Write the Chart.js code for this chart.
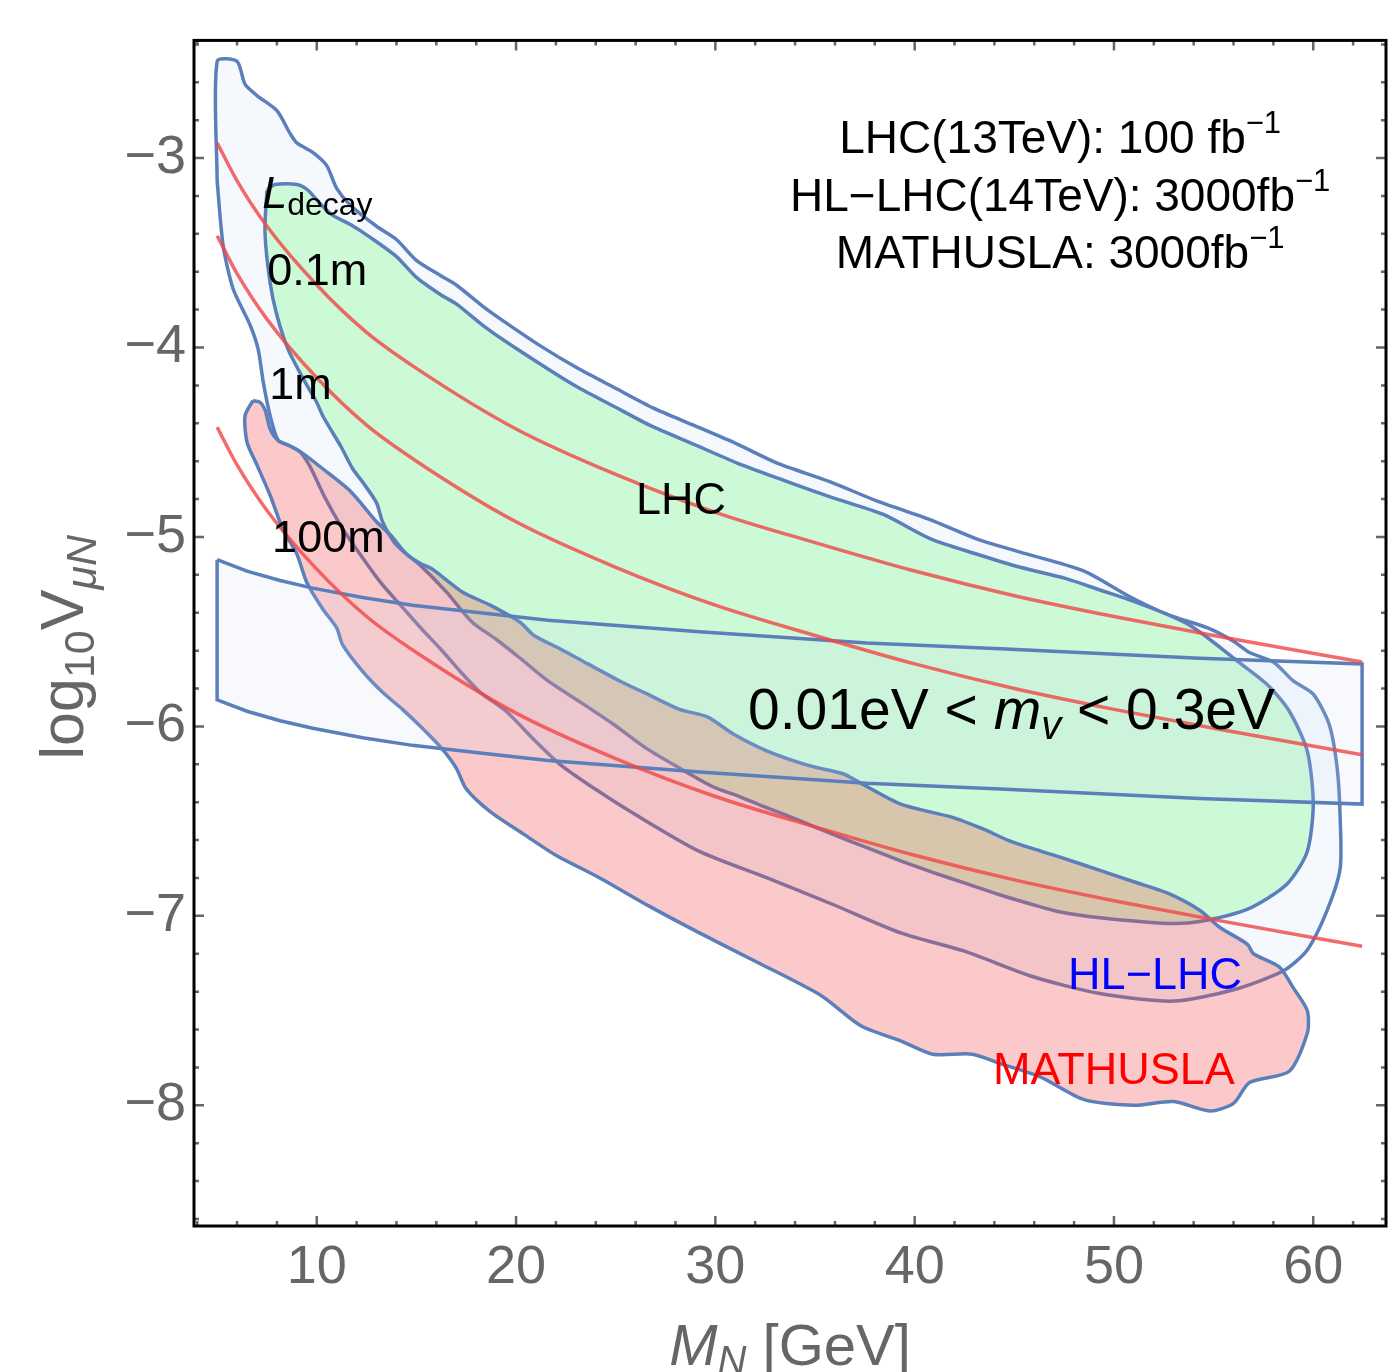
<!DOCTYPE html>
<html>
<head>
<meta charset="utf-8">
<title>HNL reach: LHC, HL-LHC, MATHUSLA</title>
<script src="https://cdn.jsdelivr.net/npm/chart.js@4.4.1/dist/chart.umd.min.js"></script>
<style>
  html, body { margin: 0; padding: 0; background: #fff; }
</style>
</head>
<body>
<canvas id="grafico" width="1394" height="1372"></canvas>
<script>
const FONT = '"Liberation Sans", Arial, Helvetica, sans-serif';
const GRIS = '#666666';
const AZUL = '#5b7fba';

// axes
const xTicks = [10, 20, 30, 40, 50, 60];
const yTicks = [-8, -7, -6, -5, -4, -3];

// HL-LHC (outer light blue region), M_N [GeV] and log10 V
const hlMass = [5.0, 5.0, 6.0, 6.4, 7.0, 8.0, 8.66, 9.0, 9.8, 10.5, 11.0, 11.7, 13.0, 14.0, 15.0, 16.2, 17.0, 18.3, 19.5, 21.2,
  23.1, 24.9, 26.9, 28.9, 31.1, 33.1, 35.8, 38.1, 40.8, 43.1, 45.3, 48.5, 50.7, 52.7, 54.7, 56.0, 56.8, 58.0, 59.0, 60.0,
  60.8, 61.2, 61.35, 61.35, 60.7, 59.7, 58.5, 56.0, 53.0, 49.3, 45.9, 42.6, 39.3, 35.9, 32.6, 29.2, 25.9, 24.1, 22.2, 20.9,
  19.5, 18.2, 17.2, 16.2, 15.3, 14.2, 13.2, 11.9, 11.2, 10.4, 9.67, 9.16, 8.66, 8.06, 7.66, 7.31, 7.06, 6.65, 5.8, 5.3];
const hlLogV = [-3.12, -2.49, -2.49, -2.61, -2.67, -2.75, -2.87, -2.92, -2.97, -3.04, -3.16, -3.25, -3.36, -3.43, -3.54, -3.62, -3.67, -3.78, -3.87, -3.99,
  -4.11, -4.21, -4.32, -4.41, -4.51, -4.61, -4.71, -4.81, -4.91, -5.01, -5.08, -5.18, -5.31, -5.41, -5.48, -5.55, -5.61, -5.66, -5.76, -5.83,
  -5.99, -6.22, -6.48, -6.75, -6.97, -7.18, -7.29, -7.39, -7.45, -7.41, -7.32, -7.19, -7.09, -6.94, -6.80, -6.66, -6.46, -6.34, -6.20, -6.07,
  -5.92, -5.82, -5.71, -5.59, -5.49, -5.36, -5.24, -5.05, -4.94, -4.79, -4.63, -4.55, -4.52, -4.49, -4.36, -4.18, -4.01, -3.88, -3.69, -3.46];

// LHC 13 TeV (green)
const lhcMass = [7.5, 7.9, 9.01, 9.56, 10.07, 10.77, 11.67, 12.7, 14.0, 15.0, 16.2, 17.0, 18.3, 19.5, 21.7, 23.1, 24.9, 26.7, 28.9, 31.1,
  33.4, 35.8, 38.4, 40.8, 43.1, 45.3, 47.6, 49.3, 51.0, 52.7, 53.7, 54.8, 56.0, 57.7, 58.8, 59.7, 60.0, 59.7, 58.7, 56.8,
  54.3, 52.7, 49.3, 47.3, 45.9, 44.3, 42.6, 40.9, 39.3, 37.6, 35.9, 34.3, 32.6, 31.2, 29.9, 28.2, 26.6, 24.9, 23.2, 21.6,
  20.2, 19.0, 17.8, 16.5, 15.2, 14.5, 13.9, 13.3, 13.0, 12.3, 11.8, 11.2, 10.8, 10.3, 10.0, 9.4, 8.56, 8.0, 7.66, 7.4];
const lhcLogV = [-3.17, -3.14, -3.14, -3.17, -3.23, -3.30, -3.35, -3.42, -3.52, -3.63, -3.72, -3.77, -3.88, -3.97, -4.12, -4.21, -4.31, -4.41, -4.51, -4.61,
  -4.70, -4.79, -4.88, -5.01, -5.09, -5.16, -5.22, -5.28, -5.34, -5.41, -5.46, -5.54, -5.64, -5.78, -5.92, -6.13, -6.41, -6.66, -6.83, -6.96,
  -7.03, -7.04, -7.01, -6.98, -6.94, -6.89, -6.83, -6.77, -6.71, -6.64, -6.57, -6.50, -6.43, -6.37, -6.32, -6.22, -6.12, -5.99, -5.87, -5.76,
  -5.64, -5.54, -5.45, -5.29, -5.15, -5.09, -5.03, -4.92, -4.82, -4.71, -4.64, -4.52, -4.45, -4.36, -4.29, -4.18, -4.01, -3.83, -3.66, -3.39];

// MATHUSLA (pink)
const mathMass = [6.8, 7.16, 7.41, 7.66, 8.06, 8.66, 9.31, 10.3, 11.7, 13.0, 13.7, 14.5, 15.2, 15.8, 17.3, 18.7, 20.2, 20.9, 22.2, 23.6,
  25.2, 26.6, 28.2, 29.6, 30.9, 32.6, 34.8, 36.4, 37.3, 39.3, 41.9, 43.4, 44.9, 47.3, 49.3, 51.0, 52.7, 54.3, 55.3, 56.7,
  57.0, 58.3, 59.0, 59.7, 59.7, 58.8, 56.8, 56.0, 54.8, 53.0, 51.0, 48.5, 46.3, 44.3, 42.9, 40.9, 39.3, 37.3, 35.3, 32.2,
  29.2, 26.7, 24.2, 22.0, 20.4, 18.7, 17.5, 17.0, 16.3, 15.3, 14.3, 13.3, 12.3, 11.3, 11.0, 10.3, 9.5, 9.0, 8.3, 7.66,
  7.0, 6.5, 6.4];
const mathLogV = [-4.28, -4.29, -4.33, -4.43, -4.49, -4.52, -4.56, -4.64, -4.76, -4.92, -4.99, -5.09, -5.14, -5.17, -5.29, -5.36, -5.45, -5.52, -5.59, -5.67,
  -5.76, -5.83, -5.91, -5.95, -6.04, -6.13, -6.21, -6.25, -6.30, -6.41, -6.48, -6.54, -6.61, -6.69, -6.76, -6.82, -6.88, -6.97, -7.06, -7.15,
  -7.20, -7.27, -7.38, -7.50, -7.62, -7.82, -7.88, -7.99, -8.03, -7.98, -8.00, -7.97, -7.85, -7.78, -7.73, -7.73, -7.66, -7.58, -7.42, -7.25,
  -7.09, -6.95, -6.80, -6.68, -6.57, -6.45, -6.33, -6.22, -6.12, -6.01, -5.91, -5.82, -5.71, -5.57, -5.48, -5.38, -5.24, -5.09, -4.96, -4.78,
  -4.62, -4.50, -4.36];

// 0.01 eV < m_nu < 0.3 eV band
const bandMass = [5.0, 6.5, 8.16, 9.8, 12.3, 14.8, 18.2, 21.6, 29.2, 37.6, 44.3, 54.3, 62.45];
const bandUpper = [-5.12, -5.18, -5.23, -5.27, -5.32, -5.36, -5.40, -5.44, -5.50, -5.56, -5.59, -5.64, -5.67];
const bandLower = [-5.86, -5.92, -5.97, -6.01, -6.06, -6.10, -6.14, -6.18, -6.24, -6.30, -6.33, -6.38, -6.41];

// decay length contours
const decayMass = [5, 6, 7.5, 10, 12.5, 15, 20, 25, 30, 35, 40, 45, 50, 55, 62.45];
const decay01m = [-2.92, -3.12, -3.36, -3.67, -3.92, -4.11, -4.43, -4.67, -4.87, -5.03, -5.18, -5.31, -5.42, -5.52, -5.66];
const decay1m = [-3.41, -3.61, -3.85, -4.16, -4.41, -4.60, -4.92, -5.16, -5.36, -5.52, -5.67, -5.80, -5.91, -6.01, -6.15];
const decay100m = [-4.42, -4.62, -4.86, -5.17, -5.42, -5.61, -5.93, -6.17, -6.37, -6.53, -6.68, -6.81, -6.92, -7.02, -7.16];

// text labels (left edge / baseline, data units)
const labelText = ['0.1m', '1m', '100m', 'LHC'];
const labelMass = [7.51, 7.61, 7.76, 26.02];
const labelLogV = [-3.668, -4.274, -5.079, -4.879];
const legendLines = ['LHC(13TeV): 100 fb', 'HL\u2212LHC(14TeV): 3000fb', 'MATHUSLA: 3000fb'];
const legendMass = 47.3;
const legendLogV = [-2.974, -3.279, -3.579];

function toPoints(xs, ys, close) {
  const pts = xs.map((x, i) => ({ x: x, y: ys[i] }));
  if (close) pts.push({ x: xs[0], y: ys[0] });
  return pts;
}

function region(points, fillColor, order, tension) {
  return {
    data: points,
    borderColor: AZUL,
    borderWidth: 3.5,
    backgroundColor: fillColor,
    fill: 'shape',
    pointRadius: 0,
    tension: tension,
    order: order
  };
}

function curve(ys) {
  return {
    data: toPoints(decayMass, ys, false),
    borderColor: 'rgba(240,70,70,0.8)',
    borderWidth: 3.5,
    fill: false,
    pointRadius: 0,
    cubicInterpolationMode: 'monotone',
    order: 1
  };
}

const bandPoints = toPoints(bandMass, bandUpper, false)
  .concat(toPoints(bandMass.slice().reverse(), bandLower.slice().reverse(), false));
bandPoints.push({ x: bandMass[0], y: bandUpper[0] });

// draw text made of pieces with different fonts
function drawParts(ctx, parts, x, y, align) {
  let total = 0;
  parts.forEach(p => {
    ctx.font = p.font;
    p.w = ctx.measureText(p.text).width;
    total += p.w;
  });
  let cx = align === 'center' ? x - total / 2 : x;
  parts.forEach(p => {
    ctx.font = p.font;
    ctx.fillText(p.text, cx, y + (p.dy || 0));
    cx += p.w;
  });
}

const marco = {
  id: 'marco',
  afterDatasetsDraw(chart) {
    const { ctx, chartArea: a, scales: { x, y } } = chart;
    ctx.save();
    ctx.textAlign = 'left';
    ctx.textBaseline = 'alphabetic';

    // labels inside the plot
    ctx.fillStyle = '#000';
    drawParts(ctx, [
      { text: 'L', font: 'italic 45px ' + FONT },
      { text: 'decay', font: '32px ' + FONT, dy: 7 }
    ], x.getPixelForValue(7.26), y.getPixelForValue(-3.263), 'left');
    ctx.font = '45px ' + FONT;
    labelText.forEach((t, i) => {
      ctx.fillText(t, x.getPixelForValue(labelMass[i]), y.getPixelForValue(labelLogV[i]));
    });
    drawParts(ctx, [
      { text: '0.01eV < ', font: '57px ' + FONT },
      { text: 'm', font: 'italic 57px ' + FONT },
      { text: 'v', font: 'italic 40px ' + FONT, dy: 10 },
      { text: ' < 0.3eV', font: '57px ' + FONT }
    ], x.getPixelForValue(31.64), y.getPixelForValue(-6.016), 'left');

    legendLines.forEach((t, i) => {
      drawParts(ctx, [
        { text: t, font: '46px ' + FONT },
        { text: '\u22121', font: '31px ' + FONT, dy: -20 }
      ], x.getPixelForValue(legendMass), y.getPixelForValue(legendLogV[i]), 'center');
    });

    ctx.font = '45px ' + FONT;
    ctx.fillStyle = '#0000ff';
    ctx.fillText('HL\u2212LHC', x.getPixelForValue(47.70), y.getPixelForValue(-7.384));
    ctx.fillStyle = '#ff0000';
    ctx.fillText('MATHUSLA', x.getPixelForValue(43.93), y.getPixelForValue(-7.889));

    // inward ticks on the four sides
    ctx.strokeStyle = GRIS;
    ctx.lineWidth = 2.5;
    ctx.beginPath();
    for (let m = 4; m <= 62; m += 2) {
      const px = x.getPixelForValue(m);
      const len = m % 10 === 0 ? 10 : 5;
      ctx.moveTo(px, a.bottom); ctx.lineTo(px, a.bottom - len);
      ctx.moveTo(px, a.top); ctx.lineTo(px, a.top + len);
    }
    for (let i = -43; i <= -12; i++) {
      const py = y.getPixelForValue(i / 5);
      const len = i % 5 === 0 ? 10 : 5;
      ctx.moveTo(a.left, py); ctx.lineTo(a.left + len, py);
      ctx.moveTo(a.right, py); ctx.lineTo(a.right - len, py);
    }
    ctx.stroke();

    ctx.strokeStyle = '#000';
    ctx.lineWidth = 3;
    ctx.strokeRect(a.left, a.top, a.right - a.left, a.bottom - a.top);

    // axis titles
    ctx.fillStyle = GRIS;
    drawParts(ctx, [
      { text: 'M', font: 'italic 58px ' + FONT },
      { text: 'N', font: 'italic 40px ' + FONT, dy: 9 },
      { text: ' [GeV]', font: '58px ' + FONT }
    ], (a.left + a.right) / 2, a.bottom + 139, 'center');

    ctx.translate(a.left - 111, (a.top + a.bottom) / 2 + 14);
    ctx.rotate(-Math.PI / 2);
    drawParts(ctx, [
      { text: 'log', font: '61px ' + FONT },
      { text: '10', font: '43px ' + FONT, dy: 11 },
      { text: 'V', font: '61px ' + FONT },
      { text: '\u03bcN', font: 'italic 43px ' + FONT, dy: 13 }
    ], 0, 0, 'center');
    ctx.restore();
  }
};

new Chart(document.getElementById('grafico'), {
  type: 'line',
  data: {
    datasets: [
      region(toPoints(hlMass, hlLogV, true), '#f5f9fe', 5, 0.25),
      region(toPoints(lhcMass, lhcLogV, true), '#ccf9d6', 4, 0.25),
      region(toPoints(mathMass, mathLogV, true), 'rgba(242,75,75,0.3)', 3, 0.25),
      region(bandPoints, 'rgba(200,215,240,0.15)', 2, 0),
      curve(decay01m),
      curve(decay1m),
      curve(decay100m)
    ]
  },
  options: {
    responsive: false,
    animation: false,
    events: [],
    layout: { padding: { top: 37, right: 8, left: 0, bottom: 0 } },
    plugins: { legend: { display: false }, tooltip: { enabled: false } },
    scales: {
      x: {
        type: 'linear',
        min: 3.84,
        max: 63.65,
        grid: { display: false, drawTicks: false },
        border: { display: false },
        afterBuildTicks: s => { s.ticks = xTicks.map(v => ({ value: v })); },
        afterFit: s => { s.height = 146; },
        ticks: {
          color: GRIS,
          padding: 10,
          maxRotation: 0,
          font: { family: FONT, size: 54 }
        }
      },
      y: {
        type: 'linear',
        min: -8.637,
        max: -2.379,
        grid: { display: false, drawTicks: false },
        border: { display: false },
        afterBuildTicks: s => { s.ticks = yTicks.map(v => ({ value: v })); },
        afterFit: s => { s.width = 194; },
        ticks: {
          color: GRIS,
          padding: 8,
          font: { family: FONT, size: 54 },
          callback: v => '\u2212' + Math.abs(v)
        }
      }
    }
  },
  plugins: [marco]
});
</script>
</body>
</html>
